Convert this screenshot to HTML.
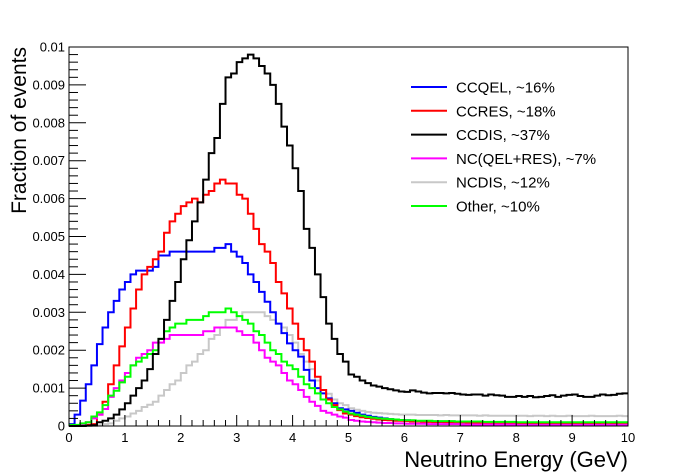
<!DOCTYPE html>
<html><head><meta charset="utf-8"><style>
html,body{margin:0;padding:0;background:#fff;}
svg{display:block;font-family:"Liberation Sans",Arial,sans-serif;}
</style></head><body>
<svg id="chart" width="698" height="474" viewBox="0 0 698 474">
<rect width="698" height="474" fill="#fff"/>
<g id="series"></g>
<g id="axes"></g>
<text x="26" y="47" transform="rotate(-90 26 47)" text-anchor="end" font-size="21">Fraction of events</text>
<text x="628" y="467" text-anchor="end" font-size="22">Neutrino Energy (GeV)</text>
<g id="legend"></g>
</svg>
<script>
const xTicks = [0,1,2,3,4,5,6,7,8,9,10];
const yTicks = [0,0.001,0.002,0.003,0.004,0.005,0.006,0.007,0.008,0.009,0.01];
const yTickLabels = ["0","0.001","0.002","0.003","0.004","0.005","0.006","0.007","0.008","0.009","0.01"];
const seriesNames = ["CCQEL, ~16%","CCRES, ~18%","CCDIS, ~37%","NC(QEL+RES), ~7%","NCDIS, ~12%","Other, ~10%"];
const seriesColors = ["#0000ff","#ff0000","#000000","#ff00ff","#c8c8c8","#00ff00"];
const ccqel = [0.00005,0.0003,0.00067,0.0011,0.0016,0.00216,0.0026,0.003,0.0033,0.0036,
0.0038,0.004,0.0041,0.0041,0.0041,0.0042,0.0045,0.0045,0.0046,0.0046,
0.0046,0.0046,0.0046,0.0046,0.0046,0.0046,0.0047,0.0047,0.0048,0.0046,
0.00447,0.0043,0.004,0.0038,0.00354,0.00328,0.003,0.0027,0.00245,0.00218,
0.002,0.00183,0.00148,0.0012,0.001,0.00086,0.00073,0.0006,0.00047,0.00044,
0.0004,0.00035,0.0003,0.00027,0.00024,0.00022,0.0002,0.00018,0.00017,0.00016,
0.00015,0.00014,0.00013,0.00013,0.00012,0.00012,0.00011,0.00011,0.0001,0.0001,
0.0001,0.00009,0.00009,0.00009,0.00008,0.00008,0.00008,0.00007,0.00007,0.00007,
0.00007,0.00006,0.00006,0.00006,0.00006,0.00006,0.00005,0.00005,0.00005,0.00005,
0.00005,0.00005,0.00005,0.00004,0.00004,0.00004,0.00004,0.00004,0.00004,0.00004];
const ccres = [0,0.00001,0.00002,0.00003,0.00005,0.0003,0.00064,0.0011,0.0016,0.0021,
0.0026,0.0031,0.0036,0.004,0.0042,0.0044,0.0046,0.0051,0.0054,0.0056,
0.0058,0.0059,0.006,0.0059,0.0061,0.0062,0.0064,0.0065,0.0064,0.0064,
0.0061,0.006,0.0056,0.0052,0.0048,0.0046,0.0043,0.0038,0.0035,0.0031,
0.0027,0.0023,0.002,0.0017,0.0013,0.00095,0.0007,0.00055,0.00042,0.00033,
0.0003,0.00026,0.00023,0.00021,0.00019,0.00017,0.00016,0.00015,0.00014,0.00014,
0.00013,0.00012,0.00012,0.00011,0.00011,0.0001,0.00011,0.0001,0.0001,0.00009,
0.0001,0.00009,0.00009,0.00008,0.00009,0.00008,0.00008,0.00008,0.00007,0.00008,
0.00007,0.00007,0.00008,0.00007,0.00006,0.00007,0.00006,0.00006,0.00007,0.00006,
0.00006,0.00006,0.00005,0.00006,0.00006,0.00005,0.00005,0.00006,0.00005,0.00005];
const ccdis = [0,0,0,0.00001,0.00002,0.0001,0.00014,0.0002,0.0003,0.00044,
0.0006,0.0008,0.001,0.0012,0.0015,0.0019,0.0023,0.0028,0.0033,0.0038,
0.0044,0.0049,0.0054,0.0059,0.0065,0.0072,0.0076,0.0085,0.0092,0.0093,
0.0096,0.0097,0.0098,0.0097,0.0095,0.0093,0.009,0.0085,0.0079,0.0074,
0.0068,0.0062,0.0052,0.0047,0.004,0.0034,0.0027,0.0023,0.0019,0.0017,
0.00136,0.0013,0.0012,0.00113,0.00107,0.00104,0.001,0.00097,0.00094,0.00091,
0.0009,0.00094,0.00091,0.00088,0.00086,0.00087,0.00087,0.00086,0.00087,0.00085,
0.00083,0.00082,0.00083,0.00083,0.0008,0.00083,0.00081,0.0008,0.00077,0.00077,
0.00079,0.00077,0.00079,0.00076,0.00077,0.00079,0.00081,0.00077,0.0008,0.00082,
0.00083,0.00079,0.00077,0.00077,0.0008,0.00083,0.00081,0.00082,0.00085,0.00086];
const ncqelres = [0,0.00002,0.00004,0.0001,0.0002,0.0003,0.00045,0.00077,0.001,0.0012,
0.0014,0.0016,0.0018,0.0019,0.002,0.0022,0.0022,0.0023,0.0024,0.0024,
0.0024,0.0024,0.0024,0.0024,0.0025,0.0025,0.0026,0.0026,0.0026,0.0026,
0.0025,0.0024,0.0024,0.0022,0.002,0.0018,0.0017,0.0016,0.0014,0.0012,
0.0011,0.00095,0.00077,0.00064,0.00053,0.0004,0.00035,0.0003,0.00025,0.00022,
0.00016,0.00014,0.00012,0.00011,0.0001,0.00009,0.00008,0.00008,0.00007,0.00007,
0.00006,0.00006,0.00006,0.00006,0.00005,0.00005,0.00005,0.00005,0.00005,0.00005,
0.00004,0.00004,0.00004,0.00004,0.00004,0.00004,0.00004,0.00004,0.00004,0.00004,
0.00003,0.00003,0.00003,0.00003,0.00003,0.00003,0.00003,0.00003,0.00003,0.00003,
0.00003,0.00003,0.00003,0.00003,0.00003,0.00003,0.00003,0.00003,0.00003,0.00003];
const ncdis = [0,0,0,0,0,0.00002,0.00005,0.00007,0.00014,0.0002,
0.00025,0.00033,0.0004,0.0005,0.00056,0.00064,0.0008,0.00095,0.0011,0.0012,
0.0014,0.0016,0.0017,0.0019,0.002,0.0023,0.0024,0.0026,0.0028,0.0028,
0.0029,0.003,0.003,0.003,0.003,0.0029,0.0028,0.0027,0.0026,0.0024,
0.0022,0.0019,0.0017,0.0015,0.0012,0.00095,0.00085,0.0007,0.0006,0.00055,
0.00047,0.00043,0.0004,0.00037,0.00035,0.00034,0.00033,0.00032,0.00031,0.0003,
0.0003,0.0003,0.00029,0.00029,0.00029,0.00029,0.00028,0.00029,0.00028,0.00028,
0.00028,0.00028,0.00028,0.00027,0.00028,0.00027,0.00027,0.00027,0.00027,0.00027,
0.00027,0.00027,0.00026,0.00027,0.00027,0.00026,0.00027,0.00026,0.00026,0.00027,
0.00026,0.00026,0.00026,0.00027,0.00026,0.00026,0.00026,0.00026,0.00027,0.00026];
const other = [0.00003,0.00003,0.00007,0.0001,0.00025,0.00036,0.00055,0.0008,0.00093,0.00115,
0.0013,0.0016,0.0017,0.0018,0.0019,0.002,0.0023,0.0025,0.0026,0.0027,
0.0027,0.0028,0.0028,0.0028,0.0029,0.003,0.003,0.003,0.0031,0.003,
0.0029,0.0028,0.0027,0.0025,0.0024,0.0022,0.002,0.0019,0.0017,0.0016,
0.0015,0.0013,0.0011,0.001,0.00086,0.0007,0.0006,0.0005,0.00044,0.00038,
0.00033,0.0003,0.00027,0.00024,0.00022,0.0002,0.00019,0.00018,0.00017,0.00016,
0.00015,0.00015,0.00014,0.00014,0.00014,0.00013,0.00013,0.00013,0.00013,0.00012,
0.00012,0.00012,0.00012,0.00012,0.00011,0.00011,0.00011,0.00011,0.00011,0.00011,
0.0001,0.0001,0.0001,0.0001,0.0001,0.0001,0.0001,0.0001,0.0001,0.0001,
0.0001,0.0001,0.0001,0.0001,0.0001,0.0001,0.0001,0.0001,0.0001,0.0001];

const NS = "http://www.w3.org/2000/svg";
const L = 69, R = 628, T = 47, B = 426;
const xMin = 0, xMax = 10, yMin = 0, yMax = 0.01;
function xs(v){ return L + (v - xMin) / (xMax - xMin) * (R - L); }
function ys(v){ return B - (v - yMin) / (yMax - yMin) * (B - T); }
function mk(tag, attrs, parent){
  const e = document.createElementNS(NS, tag);
  for (const k in attrs) e.setAttribute(k, attrs[k]);
  parent.appendChild(e);
  return e;
}
const gS = document.getElementById('series');
const drawOrder = [4, 0, 1, 3, 5, 2];
const seriesKeys = ["ccqel","ccres","ccdis","ncqelres","ncdis","other"];
const dataBySeries = [ccqel, ccres, ccdis, ncqelres, ncdis, other];
drawOrder.forEach(function(si){
  const vals = dataBySeries[si];
  const n = vals.length;
  const bw = (xMax - xMin) / n;
  let d = "M" + xs(xMin).toFixed(2) + "," + ys(vals[0]).toFixed(2);
  for (let i = 0; i < n; i++) {
    if (i > 0) d += "V" + ys(vals[i]).toFixed(2);
    d += "H" + xs(xMin + (i + 1) * bw).toFixed(2);
  }
  const p = mk('path', {d: d, fill: 'none', stroke: seriesColors[si], 'stroke-width': 2}, gS);
  
  
});

const gA = document.getElementById('axes');
const frame = mk('rect', {x: L, y: T, width: R - L, height: B - T, fill: 'none', stroke: '#000', 'stroke-width': 1}, gA);


for (let i = 0; i < yTicks.length; i++) {
  const y = ys(yTicks[i]);
  const t = mk('line', {x1: L, x2: L + 17, y1: y, y2: y, stroke: '#000', 'stroke-width': 1}, gA);
  
  
  const lb = mk('text', {x: L - 4, y: y + 4.5, 'text-anchor': 'end', 'font-size': 13}, gA);
  lb.textContent = yTickLabels[i];
  
  
  if (i < yTicks.length - 1) {
    for (let k = 1; k < 5; k++) {
      const ym = ys(yTicks[i] + (yTicks[i+1] - yTicks[i]) * k / 5);
      const m = mk('line', {x1: L, x2: L + 9, y1: ym, y2: ym, stroke: '#000', 'stroke-width': 1}, gA);
      
      
    }
  }
}
for (let i = 0; i < xTicks.length; i++) {
  const x = xs(xTicks[i]);
  const t = mk('line', {x1: x, x2: x, y1: B, y2: B - 11, stroke: '#000', 'stroke-width': 1}, gA);
  
  
  const lb = mk('text', {x: x, y: B + 16, 'text-anchor': 'middle', 'font-size': 13}, gA);
  lb.textContent = String(xTicks[i]);
  
  
  if (i < xTicks.length - 1) {
    for (let k = 1; k < 5; k++) {
      const xm = xs(xTicks[i] + (xTicks[i+1] - xTicks[i]) * k / 5);
      const m = mk('line', {x1: xm, x2: xm, y1: B, y2: B - 6, stroke: '#000', 'stroke-width': 1}, gA);
      
      
    }
  }
}
const gL = document.getElementById('legend');
for (let i = 0; i < seriesNames.length; i++) {
  const y = 87 + i * 23.8;
  const ln = mk('line', {x1: 411, x2: 447, y1: y, y2: y, stroke: seriesColors[i], 'stroke-width': 2}, gL);
  
  
  const tx = mk('text', {x: 456, y: y + 5.5, 'font-size': 15}, gL);
  tx.textContent = seriesNames[i];
  
  
}
</script>
</body></html>
